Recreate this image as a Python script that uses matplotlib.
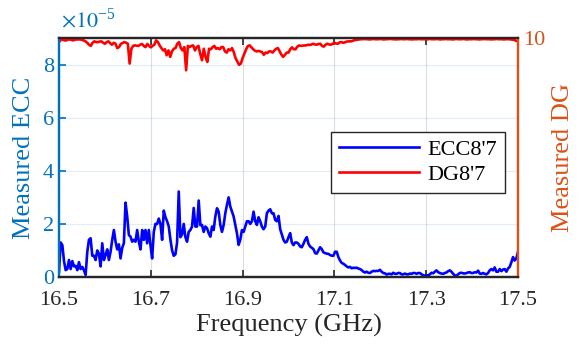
import numpy as np
import matplotlib
matplotlib.use("Agg")
import matplotlib.pyplot as plt

plt.rcParams['font.family'] = ['Liberation Serif', 'DejaVu Serif']
plt.rcParams['mathtext.fontset'] = 'stix'

# measured ECC (in units of 1e-5), uniform sweep 16.5 -> 17.5 GHz
ecc_e5 = [
    0.2, 1.3, 1.2, 0.6, 0.26, 0.3, 0.64, 0.3, 0.6, 0.4, 0.42, 0.26, 0.56, 0.3, 0.38, 0.25, 0.08, 0.95, 1.4,
    1.46, 0.8, 0.8, 0.64, 1.0, 0.88, 0.4, 1.27, 0.64, 0.83, 1.04, 0.64, 0.95, 1.4, 1.77, 1.33, 1.04, 1.23,
    0.7, 1.1, 1.27, 2.8, 2.28, 1.58, 1.52, 1.33, 1.4, 1.33, 1.77, 1.33, 1.04, 1.77, 1.4, 1.77, 1.27, 1.77,
    1.2, 0.7,
    1.7, 2.0, 2.0, 2.2, 2.0, 1.4, 2.5, 2.25, 2.1, 1.9, 1.4, 1.0, 0.8, 0.85, 1.3, 3.22, 1.5, 1.6, 2.0, 1.5,
    1.33, 1.7, 1.77, 1.9, 2.6, 1.9, 1.9, 2.88, 1.95, 1.96, 1.7, 1.9, 1.84, 1.65, 1.52, 1.9, 1.77, 2.28,
    2.59, 2.46, 1.96, 1.7, 1.96, 2.4, 2.72, 3.0, 2.65, 2.46, 2.28, 1.96, 1.65, 1.21, 1.4, 1.77, 1.7, 1.9,
    2.1,
    2.1, 2.0, 2.1, 2.46, 2.1, 1.96, 2.25, 2.1, 1.9, 1.8, 1.9, 2.4, 2.5, 2.55, 2.4, 2.4, 2.15, 2.1, 2.3,
    1.8, 1.6, 1.4, 1.3, 1.33, 1.5, 1.65, 1.3, 1.2, 1.3, 1.3, 1.25, 1.15, 1.12, 1.25, 1.4, 1.5, 1.25, 1.15,
    1.1, 1.05, 0.9, 0.88, 1.0, 1.12, 1.05, 0.93, 0.9, 0.88, 0.87, 0.83, 0.8, 0.8, 0.95, 0.95, 0.75, 0.62,
    0.53,
    0.5, 0.45, 0.4, 0.36, 0.38, 0.33, 0.35, 0.34, 0.35, 0.32, 0.3, 0.26, 0.2, 0.17, 0.2, 0.16, 0.15, 0.2,
    0.23, 0.22, 0.23, 0.23, 0.27, 0.2, 0.15, 0.14, 0.09, 0.12, 0.12, 0.1, 0.16, 0.12, 0.12, 0.15, 0.15,
    0.1, 0.1, 0.13, 0.1, 0.1, 0.13, 0.12, 0.15, 0.15, 0.12, 0.15, 0.15, 0.1, 0.07, 0.05, 0.07, 0.06, 0.1,
    0.16, 0.14, 0.2, 0.25,
    0.18, 0.15, 0.13, 0.12, 0.15, 0.17, 0.22, 0.25, 0.2, 0.12, 0.06, 0.05, 0.1, 0.15, 0.16, 0.14, 0.13,
    0.15, 0.17, 0.18, 0.15, 0.15, 0.18, 0.17, 0.24, 0.13, 0.12, 0.15, 0.12, 0.1, 0.15, 0.25, 0.3, 0.25,
    0.36, 0.2, 0.2, 0.3, 0.22, 0.28, 0.3, 0.2, 0.32, 0.38, 0.55, 0.75, 0.62, 0.7, 0.95,
]

# measured DG, same sweep
dg = [
    9.83, 9.92, 9.94, 9.90, 9.90, 9.93, 9.94, 9.92, 9.90, 9.93, 9.94, 9.94, 9.94, 9.92, 9.90, 9.86, 9.80,
    9.72, 9.67, 9.80, 9.86, 9.83, 9.83, 9.85, 9.86, 9.80, 9.76, 9.83, 9.86, 9.78, 9.72, 9.80, 9.76, 9.58,
    9.62, 9.75, 9.79, 9.83, 9.80, 9.76, 8.93, 9.55, 9.67, 9.69, 9.68, 9.67, 9.72, 9.75, 9.67, 9.62, 9.75,
    9.67, 9.61, 9.67, 9.72, 9.90, 9.83, 9.69, 9.58, 9.48, 9.53, 9.28, 9.48, 9.21, 9.44, 9.55, 9.58, 9.76,
    9.83, 9.58, 9.48, 9.62, 8.65, 9.67, 9.62, 9.67, 9.69, 9.48, 9.62, 9.67, 9.34, 9.07, 9.55, 9.21, 9.00,
    9.55, 9.53, 9.62, 9.67, 9.55, 9.58, 9.53, 9.62, 9.62, 9.44, 9.39, 9.53, 9.48, 9.58, 9.41, 9.16, 9.02,
    8.88, 8.93, 9.16, 9.34, 9.53, 9.67, 9.69, 9.61, 9.53, 9.47, 9.44, 9.46, 9.44, 9.41, 9.30, 9.39, 9.37,
    9.44, 9.44, 9.39, 9.48, 9.55, 9.58, 9.44, 9.30, 9.21, 9.30, 9.39, 9.39, 9.53, 9.61, 9.53, 9.53, 9.64,
    9.69, 9.67,
    9.68, 9.69, 9.69, 9.72, 9.71, 9.73, 9.76, 9.73, 9.72, 9.75, 9.76, 9.67, 9.64, 9.72, 9.76, 9.73, 9.72,
    9.76, 9.80, 9.77, 9.76, 9.82, 9.83, 9.80, 9.82, 9.85, 9.86, 9.86, 9.87, 9.90, 9.92, 9.93, 9.94, 9.95,
    9.95, 9.96, 9.95, 9.95, 9.94, 9.95, 9.96, 9.95, 9.95, 9.95, 9.96, 9.95, 9.94, 9.95, 9.95, 9.96, 9.96,
    9.95, 9.95, 9.94, 9.95, 9.95, 9.96, 9.95, 9.95, 9.96, 9.95, 9.95, 9.94, 9.95, 9.95, 9.95, 9.96, 9.95,
    9.95, 9.95, 9.94, 9.95, 9.96, 9.95, 9.95, 9.95, 9.96, 9.95, 9.94, 9.95, 9.95, 9.96, 9.95, 9.95, 9.95,
    9.94, 9.95, 9.96, 9.95, 9.95, 9.95, 9.96, 9.95, 9.94, 9.95, 9.95, 9.95, 9.96, 9.95, 9.95, 9.94, 9.95,
    9.95, 9.96, 9.95, 9.95, 9.95, 9.94, 9.95, 9.95, 9.96, 9.95, 9.95, 9.95, 9.94, 9.95, 9.95, 9.95, 9.94,
    9.93, 9.92, 9.88, 9.86,
]

freq_ecc = np.linspace(16.5, 17.5, len(ecc_e5))
freq_dg = np.linspace(16.5, 17.5, len(dg))
x_ticks = [16.5, 16.7, 16.9, 17.1, 17.3, 17.5]
ecc_ticks = [0, 2, 4, 6, 8]

blue_ax = '#0072BD'
orange_ax = '#D95319'
dark = '#262626'

fig = plt.figure(figsize=(5.82, 3.51), dpi=100)
ax1 = fig.add_axes([0.1014, 0.2108, 0.7886, 0.6809])
ax2 = ax1.twinx()

l1, = ax1.plot(freq_ecc, ecc_e5, color='blue', lw=1.9, label="ECC8'7")
l2, = ax2.plot(freq_dg, dg, color='red', lw=1.9, label="DG8'7")

ax1.set_xlim(16.5, 17.5)
ax1.set_ylim(0, 9)
ax2.set_ylim(0, 10)
ax1.set_xticks(x_ticks)
ax1.set_xticklabels([f'{t:.1f}' for t in x_ticks])
ax1.set_yticks(ecc_ticks)
ax2.set_yticks([10])

# grid
for t in x_ticks[1:-1]:
    ax1.axvline(t, color=dark, alpha=0.15, lw=0.8, zorder=0)
for t in ecc_ticks[1:]:
    ax1.axhline(t, color=blue_ax, alpha=0.12, lw=0.8, zorder=0)

ax1.tick_params(axis='x', direction='in', length=5, width=1.2, colors=dark,
                labelsize=16, top=True, pad=10)
ax1.tick_params(axis='y', direction='in', length=5, width=1.2, colors=blue_ax,
                labelsize=16)
ax2.tick_params(axis='y', direction='in', length=5, width=1.2, colors=orange_ax,
                labelsize=16)

for ax in (ax1, ax2):
    ax.spines['top'].set_color(dark)
    ax.spines['bottom'].set_color(dark)
    for s in ax.spines.values():
        s.set_linewidth(1.6)
    ax.spines['left'].set_color(blue_ax)
    ax.spines['right'].set_color(orange_ax)

ax1.set_xlabel('Frequency (GHz)', fontsize=19, color=dark, labelpad=3)
ax1.set_ylabel('Measured ECC', fontsize=19, color=blue_ax, labelpad=6)
ax2.set_ylabel('Measured DG', fontsize=19, color=orange_ax, labelpad=5)

ax1.text(0.005, 1.025, r'$\times10^{\mathregular{-5}}$', transform=ax1.transAxes,
         fontsize=16, color=blue_ax, ha='left', va='bottom')

leg = ax2.legend(handles=[l1, l2], loc='upper left', bbox_to_anchor=(0.593, 0.607),
                 fontsize=16, handlelength=3.6, handletextpad=0.4, borderpad=0.35,
                 labelspacing=0.2, fancybox=False, framealpha=1, edgecolor=dark,
                 borderaxespad=0)
leg.get_frame().set_linewidth(1.0)

fig.savefig('out.png', dpi=100)
